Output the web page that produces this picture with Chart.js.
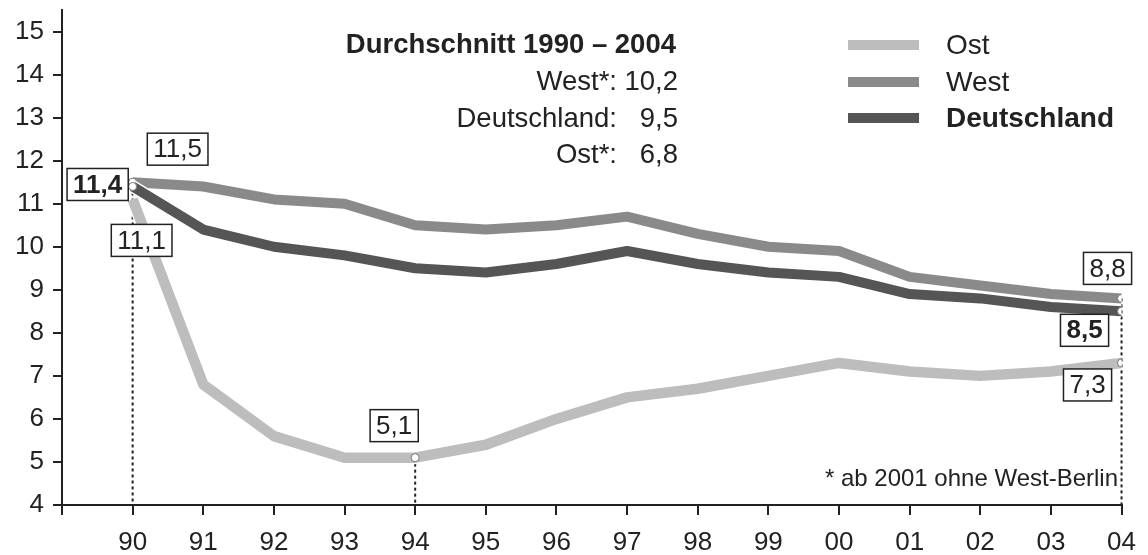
<!DOCTYPE html>
<html>
<head>
<meta charset="utf-8">
<script src="https://cdn.jsdelivr.net/npm/chart.js@4.4.1/dist/chart.umd.min.js"></script>
<style>
  html, body { margin: 0; padding: 0; background: #fff; }
  #wrap { width: 1148px; height: 555px; }
</style>
</head>
<body>
<div id="wrap"><canvas id="chart" width="1148" height="555"></canvas></div>
<script>
/* Geburten je 1000 Einwohner, 1990-2004 */
const years = [1990, 1991, 1992, 1993, 1994, 1995, 1996, 1997, 1998, 1999, 2000, 2001, 2002, 2003, 2004];
const yearLabels = ['90', '91', '92', '93', '94', '95', '96', '97', '98', '99', '00', '01', '02', '03', '04'];
const yTicks = [4, 5, 6, 7, 8, 9, 10, 11, 12, 13, 14, 15];
const ost = [11.1, 6.8, 5.6, 5.1, 5.1, 5.4, 6.0, 6.5, 6.7, 7.0, 7.3, 7.1, 7.0, 7.1, 7.3];
const west = [11.5, 11.4, 11.1, 11.0, 10.5, 10.4, 10.5, 10.7, 10.3, 10.0, 9.9, 9.3, 9.1, 8.9, 8.8];
const deutschland = [11.4, 10.4, 10.0, 9.8, 9.5, 9.4, 9.6, 9.9, 9.6, 9.4, 9.3, 8.9, 8.8, 8.6, 8.5];

const averageTitle = 'Durchschnitt 1990 – 2004';
const averageLabels = ['West*:', 'Deutschland:', 'Ost*:'];
const averageValues = ['10,2', '9,5', '6,8'];
const footnote = '* ab 2001 ohne West-Berlin';

const FONT = "'Liberation Sans', Arial, Helvetica, sans-serif";
const TEXT = '#222';
const COLORS = { ost: '#bdbdbd', west: '#8a8a8a', deutschland: '#555555' };

const series = { ost, west, deutschland };
const points = arr => years.map((y, i) => ({ x: y, y: arr[i] }));

// which points get a small white marker
const markers = { ost: [4, 14], west: [0, 14], deutschland: [0, 14] };

// boxed value labels: series, index, offset from the point
const callouts = [
    { s: 'west', i: 0, dx: 45, dy: -33, bold: false },
    { s: 'deutschland', i: 0, dx: -35, dy: -2, bold: true },
    { s: 'ost', i: 0, dx: 9, dy: 41, bold: false },
    { s: 'ost', i: 4, dx: -21, dy: -32, bold: false },
    { s: 'west', i: 14, dx: -14, dy: -30, bold: false },
    { s: 'deutschland', i: 14, dx: -37, dy: 19, bold: true },
    { s: 'ost', i: 14, dx: -34, dy: 22, bold: false }
];

// dotted drop lines: series, index
const dropLines = [
    { s: 'deutschland', i: 0 },
    { s: 'ost', i: 4 },
    { s: 'west', i: 14 }
];

const fmt = v => v.toFixed(1).replace('.', ',');

function lineDataset(key, label) {
    return {
        label: label,
        data: points(series[key]),
        borderColor: COLORS[key],
        borderWidth: key === 'ost' ? 10.5 : 10,
        borderJoinStyle: 'round',
        borderCapStyle: 'butt',
        tension: 0,
        pointRadius: c => markers[key].includes(c.dataIndex) ? 4 : 0,
        pointBackgroundColor: '#fff',
        pointBorderColor: '#777',
        pointBorderWidth: 1
    };
}

function haloDataset(key) {
    return {
        label: key + '-halo',
        data: points(series[key]),
        borderColor: '#fff',
        borderWidth: 13,
        borderJoinStyle: 'round',
        tension: 0,
        pointRadius: 0
    };
}

const overlay = {
    id: 'overlay',
    beforeDatasetsDraw(chart) {
        const { ctx, scales: { x, y } } = chart;
        ctx.save();
        ctx.strokeStyle = TEXT;
        ctx.lineWidth = 2;
        ctx.setLineDash([3, 3]);
        dropLines.forEach(d => {
            const px = x.getPixelForValue(years[d.i]);
            const py = y.getPixelForValue(series[d.s][d.i]);
            ctx.beginPath();
            ctx.moveTo(px, py);
            ctx.lineTo(px, y.bottom);
            ctx.stroke();
        });
        ctx.restore();
    },
    afterDatasetsDraw(chart) {
        const { ctx, scales: { x, y } } = chart;
        ctx.save();
        ctx.textAlign = 'center';
        ctx.textBaseline = 'middle';
        callouts.forEach(c => {
            const v = series[c.s][c.i];
            const cx = x.getPixelForValue(years[c.i]) + c.dx;
            const cy = y.getPixelForValue(v) + c.dy;
            const txt = fmt(v);
            ctx.font = (c.bold ? 'bold ' : '') + '26px ' + FONT;
            const w = ctx.measureText(txt).width + 12;
            const h = 32;
            ctx.fillStyle = '#fff';
            ctx.fillRect(cx - w / 2, cy - h / 2, w, h);
            ctx.strokeStyle = TEXT;
            ctx.lineWidth = 1.5;
            ctx.strokeRect(cx - w / 2, cy - h / 2, w, h);
            ctx.fillStyle = TEXT;
            ctx.fillText(txt, cx, cy + 1);
        });
        ctx.restore();
    },
    afterDraw(chart) {
        const { ctx } = chart;
        ctx.save();
        ctx.fillStyle = TEXT;
        ctx.textBaseline = 'alphabetic';

        // averages block
        ctx.textAlign = 'right';
        ctx.font = 'bold 27.5px ' + FONT;
        ctx.fillText(averageTitle, 676, 53);
        ctx.font = '27.5px ' + FONT;
        averageLabels.forEach((lab, i) => {
            const by = 90 + i * 36.5;
            ctx.fillText(lab, 617, by);
            ctx.fillText(averageValues[i], 678, by);
        });

        // footnote
        ctx.font = '24px ' + FONT;
        ctx.fillText(footnote, 1118, 486);

        // legend
        const legend = [
            { key: 'ost', label: 'Ost', bold: false, y: 45 },
            { key: 'west', label: 'West', bold: false, y: 82 },
            { key: 'deutschland', label: 'Deutschland', bold: true, y: 118 }
        ];
        ctx.textAlign = 'left';
        ctx.textBaseline = 'middle';
        legend.forEach(l => {
            ctx.fillStyle = COLORS[l.key];
            ctx.fillRect(848, l.y - 5, 71, 10);
            ctx.fillStyle = TEXT;
            ctx.font = (l.bold ? 'bold ' : '') + '28px ' + FONT;
            ctx.fillText(l.label, 946, l.y + 1);
        });
        ctx.restore();
    }
};

new Chart(document.getElementById('chart'), {
    type: 'line',
    data: {
        datasets: [
            lineDataset('deutschland', 'Deutschland'),
            haloDataset('deutschland'),
            lineDataset('west', 'West'),
            haloDataset('west'),
            lineDataset('ost', 'Ost'),
            haloDataset('ost')
        ]
    },
    options: {
        responsive: false,
        animation: false,
        layout: { padding: { top: 10, right: 20, left: 0, bottom: 0 } },
        plugins: { legend: { display: false }, tooltip: { enabled: false } },
        scales: {
            x: {
                type: 'linear',
                min: 1989,
                max: 2004,
                afterBuildTicks: s => { s.ticks = [1989].concat(years).map(v => ({ value: v })); },
                afterFit: s => { s.height = 50; },
                border: { color: TEXT, width: 2 },
                grid: { drawOnChartArea: false, drawTicks: true, tickLength: 10, color: TEXT, lineWidth: 2 },
                ticks: {
                    padding: 12,
                    color: TEXT,
                    font: { family: FONT, size: 26 },
                    maxRotation: 0,
                    autoSkip: false,
                    callback: v => { const i = years.indexOf(v); return i < 0 ? '' : yearLabels[i]; }
                }
            },
            y: {
                min: 4,
                max: 15.5,
                afterBuildTicks: s => { s.ticks = yTicks.map(v => ({ value: v })); },
                afterFit: s => { s.width = 62; s.paddingTop = 0; s.paddingBottom = 0; },
                border: { color: TEXT, width: 2 },
                grid: { drawOnChartArea: false, drawTicks: true, tickLength: 9, color: TEXT, lineWidth: 2 },
                ticks: {
                    padding: 9,
                    color: TEXT,
                    font: { family: FONT, size: 26 }
                }
            }
        }
    },
    plugins: [overlay]
});
</script>
</body>
</html>
